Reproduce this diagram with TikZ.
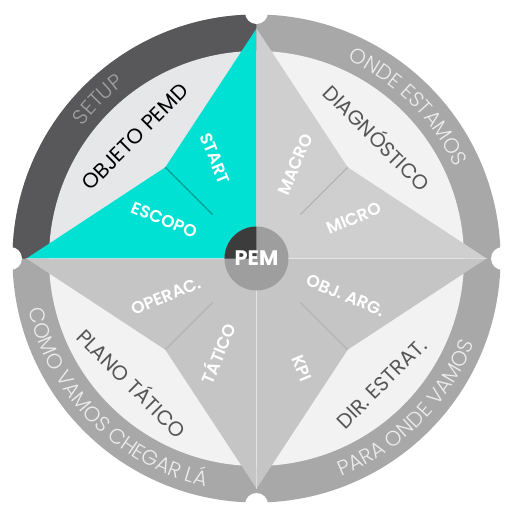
\documentclass[tikz,border=0pt]{standalone}
\usepackage{fontspec}
\setmainfont{Poppins}
\IfFontExistsTF{Poppins Light}{\newfontfamily\ringfont{Poppins Light}}{\newfontfamily\ringfont{Poppins}}
\IfFontExistsTF{Poppins SemiBold}{\newfontfamily\starfont{Poppins SemiBold}}{\newcommand\starfont{\bfseries}}
\usetikzlibrary{decorations.text}
\definecolor{teal}{RGB}{0,224,211}
\definecolor{tealline}{RGB}{0,160,150}
\definecolor{ringdark}{RGB}{88,88,90}
\definecolor{ringgray}{RGB}{168,168,168}
\definecolor{sectTL}{RGB}{230,231,232}
\definecolor{sectlight}{RGB}{242,242,242}
\definecolor{starTR}{RGB}{207,207,207}
\definecolor{starB}{RGB}{197,197,197}
\definecolor{grayline}{RGB}{180,180,180}
\definecolor{pemdark}{RGB}{60,60,60}
\definecolor{pemgray}{RGB}{158,158,158}
\definecolor{ringtxtA}{RGB}{160,160,162}
\definecolor{ringtxtB}{RGB}{236,236,236}
\definecolor{secttxt}{RGB}{85,85,85}
\tikzset{
  startxt/.style={text=white, font=\starfont\fontsize{17}{17}\selectfont, inner sep=0pt},
  secttext/.style={font=\fontsize{20.5}{20.5}\selectfont, inner sep=0pt},
  divider/.style={line width=1.1pt},
  axisline/.style={draw=white, opacity=0.45, line width=0.9pt}
}
\begin{document}
\begin{tikzpicture}[x=1pt,y=1pt]
\useasboundingbox (-256.5,-258.5) rectangle (257.5,258.5);
% ring
\fill[ringgray] (0,0) circle[radius=244];
\fill[ringdark] (0,244) arc[start angle=90,end angle=180,radius=244] -- (-207,0) arc[start angle=180,end angle=90,radius=207] -- cycle;
% light sectors
\fill[sectTL] (0,0) -- (0,207.5) arc[start angle=90,end angle=180,radius=207.5] -- cycle;
\fill[sectlight] (0,0) -- (207.5,0) arc[start angle=0,end angle=90,radius=207.5] -- cycle;
\fill[sectlight] (0,0) -- (-207.5,0) arc[start angle=180,end angle=360,radius=207.5] -- cycle;
% star
\coordinate (tN) at (90:230);
\coordinate (tW) at (180:230);
\coordinate (tS) at (270:230);
\coordinate (tE) at (0:230);
\coordinate (vNW) at (135:129);
\coordinate (vNE) at (45:129);
\coordinate (vSW) at (225:129);
\coordinate (vSE) at (315:129);
\coordinate (O) at (0,0);
\fill[teal] (O) -- (tN) -- (vNW) -- (tW) -- cycle;
\fill[starTR] (O) -- (tN) -- (vNE) -- (tE) -- cycle;
\fill[starB] (O) -- (tW) -- (vSW) -- (tS) -- cycle;
\fill[starB] (O) -- (tS) -- (vSE) -- (tE) -- cycle;
% dividers
\draw[divider, tealline] (vNW) -- (135:62);
\draw[divider, grayline] (vNE) -- (45:62);
\draw[divider, grayline] (vSW) -- (225:62);
\draw[divider, grayline] (vSE) -- (315:62);
\draw[axisline] (O) -- (tS);
\draw[axisline] (tW) -- (tE);
% notches
\foreach \a in {0,90,180,270} \fill[white] (\a:246) circle[radius=11.5];
% PEM
\fill[pemgray] (O) circle[radius=32];
\fill[pemdark] (O) -- (0,32) arc[start angle=90,end angle=180,radius=32] -- cycle;
\node[text=white, font=\bfseries\fontsize{21}{21}\selectfont] (pem) at (0,0) {PEM};
% star texts
\node[startxt, anchor=west, rotate=-67.5] (start) at (112.5:135) {START};
\node[startxt, anchor=west, rotate=-22.5] (escopo) at (157.5:135) {ESCOPO};
\node[startxt, anchor=east, rotate=67.5] (macro) at (67.5:134) {MACRO};
\node[startxt, anchor=east, rotate=22.5] (micro) at (22.5:134) {MICRO};
\node[startxt, anchor=west, rotate=22.5] (operac) at (202.5:135) {OPERAC.};
\node[startxt, anchor=west, rotate=67.5] (tatico) at (247.5:134) {TÁTICO};
\node[startxt, anchor=east, rotate=-22.5] (objarg) at (337.5:138) {OBJ. ARG.};
\node[startxt, anchor=east, rotate=-67.5] (kpi) at (292.5:132) {KPI};
% sector texts
\node[secttext, text=black, font=\fontsize{21}{21}\selectfont, rotate=45] (objeto) at (135:172) {OBJETO PEMD};
\node[secttext, text=secttxt, rotate=-45] (diag) at (45:172) {DIAGNÓSTICO};
\node[secttext, text=secttxt, rotate=-45] (plano) at (225:175) {PLANO TÁTICO};
\node[secttext, text=secttxt, rotate=45] (dir) at (315:177) {DIR. ESTRAT.};
% ring texts
\path[decorate, decoration={text along path, text align=center,
  text={|\ringfont\fontsize{21}{21}\selectfont\color{ringtxtA}|SETUP}}]
  (170:218.5) arc[start angle=170,end angle=100,radius=218.5];
\path[decorate, decoration={text along path, text align=center,
  text={|\ringfont\fontsize{21}{21}\selectfont\color{ringtxtB}|ONDE ESTAMOS}}]
  (88:218.5) arc[start angle=88,end angle=2,radius=218.5];
\path[decorate, decoration={text along path, text align=center,
  text={|\ringfont\fontsize{21}{21}\selectfont\color{ringtxtB}|COMO VAMOS CHEGAR LÁ}}]
  (181:233.5) arc[start angle=181,end angle=269,radius=233.5];
\path[decorate, decoration={text along path, text align=center,
  text={|\ringfont\fontsize{21}{21}\selectfont\color{ringtxtB}|PARA ONDE VAMOS}}]
  (271:233.5) arc[start angle=271,end angle=359,radius=233.5];
\end{tikzpicture}
\end{document}
